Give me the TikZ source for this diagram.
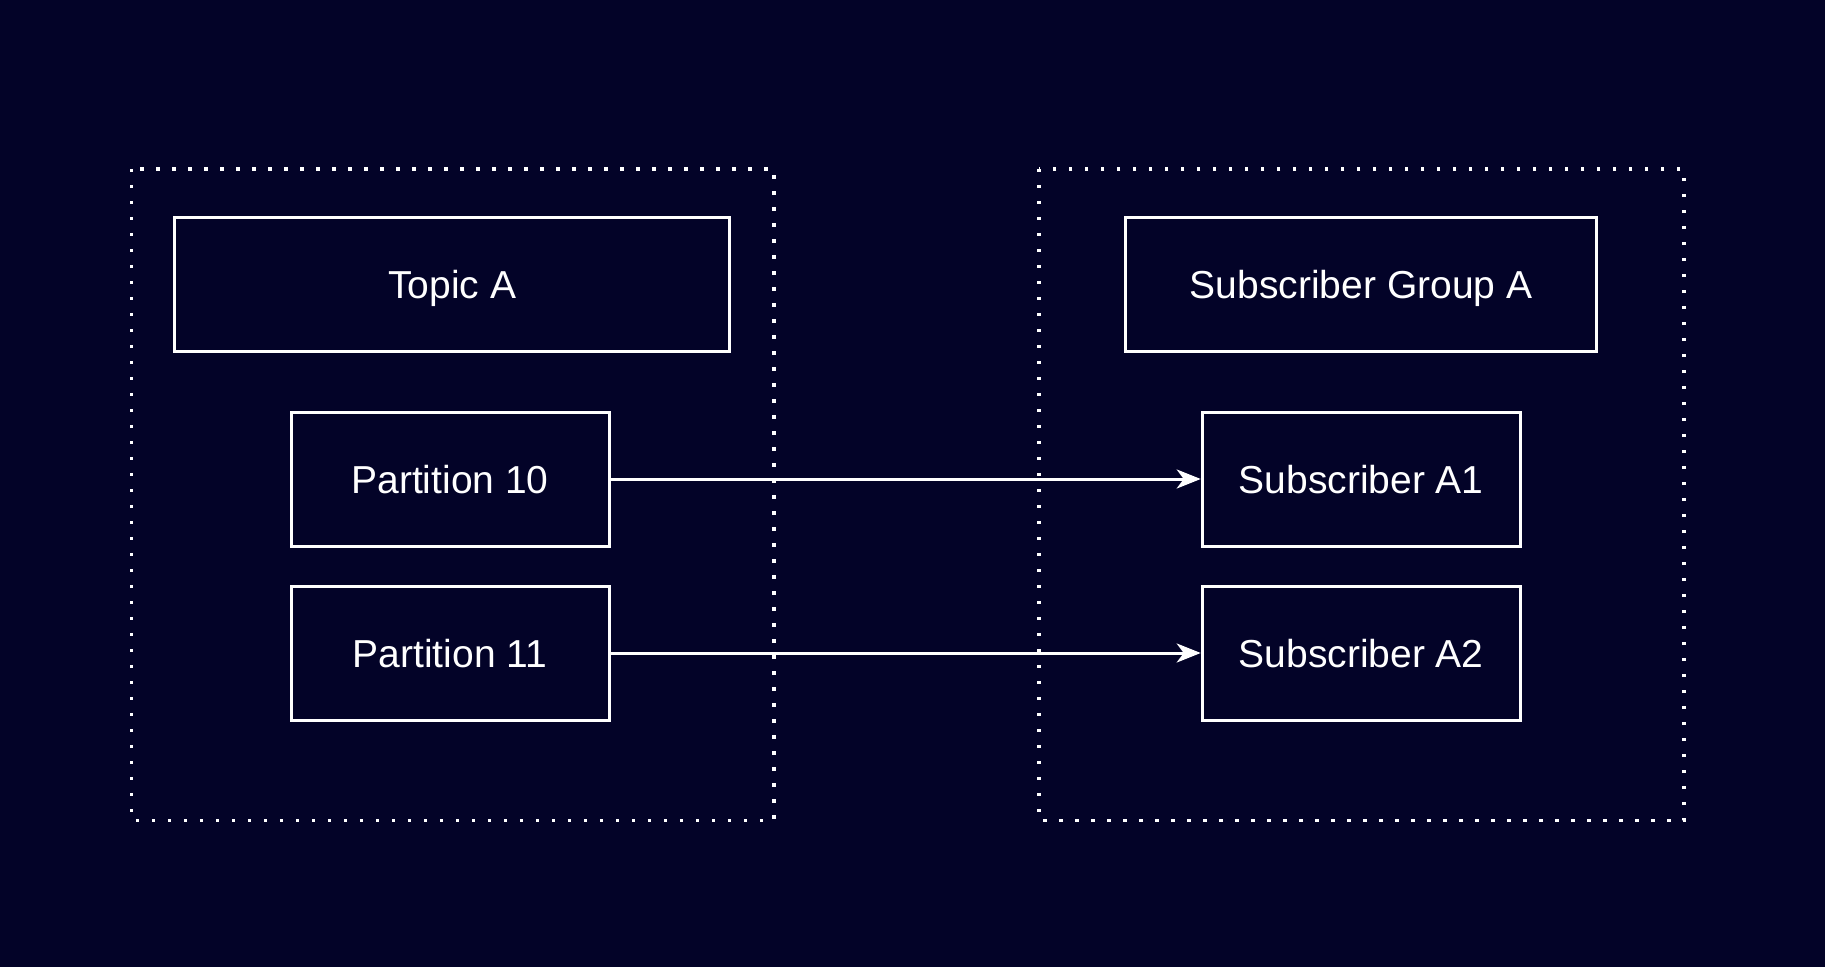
\documentclass[tikz,border=0pt]{standalone}
\usepackage{fontspec}
\setmainfont{Liberation Sans}
\usetikzlibrary{arrows.meta}
\definecolor{bgc}{RGB}{3,3,40}
\begin{document}
\begin{tikzpicture}[x=1pt,y=-1pt,
  box/.style={draw=white,line width=3pt,fill=bgc,text=white,inner sep=0pt,text height=28pt,text depth=0pt,font=\fontsize{39}{45}\selectfont},
  group/.style={draw=white,line width=3.6pt,dash pattern=on 3.6pt off 12.4pt},
  link/.style={draw=white,line width=3pt,-{Stealth[length=24pt,width=19pt,inset=7pt]}}]
\fill[bgc] (0,0) rectangle (1825,967);
\useasboundingbox (0,0) rectangle (1825,967);
\draw[group] (131.5,168.8) rectangle (774,820.5);
\draw[group] (1039,168.8) rectangle (1684,820.5);
\node[box,minimum width=555pt,minimum height=134pt] (topic) at (452.2,284.5) {Topic A};
\node[box,minimum width=318pt,minimum height=134pt] (p10) at (450,479) {Partition 10};
\node[box,minimum width=318pt,minimum height=134pt] (p11) at (450,653) {Partition 11};
\node[box,minimum width=471pt,minimum height=134pt] (grp) at (1361.2,284.5) {Subscriber Group A};
\node[box,minimum width=318pt,minimum height=134pt] (a1) at (1361.2,479) {Subscriber A1};
\node[box,minimum width=318pt,minimum height=134pt] (a2) at (1361.2,653) {Subscriber A2};
\draw[link] (p10.east) -- (a1.west);
\draw[link] (p11.east) -- (a2.west);
\end{tikzpicture}
\end{document}
